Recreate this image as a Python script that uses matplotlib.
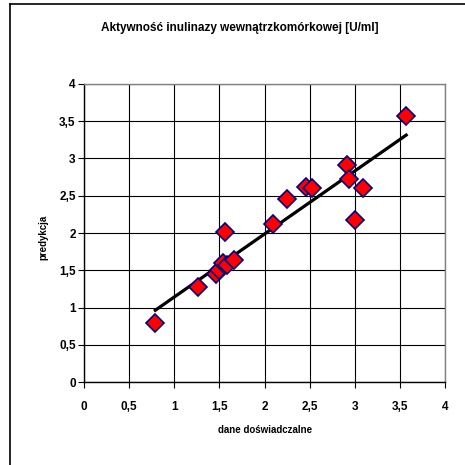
import numpy as np
import matplotlib.pyplot as plt
from matplotlib.lines import Line2D
from matplotlib.ticker import MultipleLocator, FuncFormatter

plt.rcParams['font.family'] = ['Liberation Sans', 'DejaVu Sans']

# dane doświadczalne vs predykcja
experimental = [0.79, 1.26, 1.46, 1.50, 1.54, 1.59, 1.66, 1.56, 2.09, 2.25, 2.46, 2.53, 2.91, 2.94, 3.09, 3.00, 3.57]
predicted = [0.79, 1.27, 1.45, 1.50, 1.60, 1.57, 1.64, 2.02, 2.12, 2.45, 2.62, 2.61, 2.91, 2.73, 2.61, 2.17, 3.57]

title = 'Aktywność inulinazy wewnątrzkomórkowej [U/ml]'
xlabel = 'dane doświadczalne'
ylabel = 'predykcja'


def comma(v, pos):
    return ('%g' % v).replace('.', ',')


def main():
    fig = plt.figure(figsize=(4.65, 4.65), dpi=100)
    # outer chart frame: only left and top edges are visible in the original
    fx, fy = 9.5 / 465, 1 - 4.5 / 465
    fig.lines.append(Line2D([fx, fx], [0, fy], transform=fig.transFigure,
                            color='black', linewidth=1.2))
    fig.lines.append(Line2D([fx, 1], [fy, fy], transform=fig.transFigure,
                            color='black', linewidth=1.2))

    ax = fig.add_axes([84 / 465, 83 / 465, 361 / 465, 298 / 465])
    ax.set_xlim(0, 4)
    ax.set_ylim(0, 4)
    ax.xaxis.set_major_locator(MultipleLocator(0.5))
    ax.yaxis.set_major_locator(MultipleLocator(0.5))
    ax.xaxis.set_major_formatter(FuncFormatter(comma))
    ax.yaxis.set_major_formatter(FuncFormatter(comma))
    ax.grid(True, color='black', linewidth=0.8)
    ax.set_axisbelow(True)

    for s in ['top', 'right']:
        ax.spines[s].set_color('#808080')
        ax.spines[s].set_linewidth(1.0)
    for s in ['left', 'bottom']:
        ax.spines[s].set_color('black')
        ax.spines[s].set_linewidth(1.0)

    ax.tick_params(axis='x', direction='out', length=4, pad=10, labelsize=8.5)
    ax.tick_params(axis='y', direction='out', length=4, pad=2, labelsize=8.5)
    for lab in ax.get_xticklabels() + ax.get_yticklabels():
        lab.set_fontweight('bold')

    x = np.array(experimental)
    y = np.array(predicted)
    k, b = np.polyfit(x, y, 1)
    xs = np.array([x.min(), x.max()])
    ax.plot(xs, k * xs + b, color='black', linewidth=2.3, zorder=3)

    ax.plot(x, y, linestyle='none', marker='D', markersize=9.5,
            markerfacecolor='red', markeredgecolor='#000080',
            markeredgewidth=1.2, zorder=4, clip_on=False)

    fig.text(240 / 465, 1 - 28 / 465, title, ha='center', va='center',
             fontsize=8.5, fontweight='bold')
    fig.text(265 / 465, 1 - 430 / 465, xlabel, ha='center', va='center',
             fontsize=7, fontweight='bold')
    fig.text(43 / 465, 1 - 237 / 465, ylabel, ha='center', va='center',
             fontsize=7, fontweight='bold', rotation=90)

    fig.savefig('out.png', dpi=100)
    plt.close(fig)


if __name__ == "__main__":
    main()
